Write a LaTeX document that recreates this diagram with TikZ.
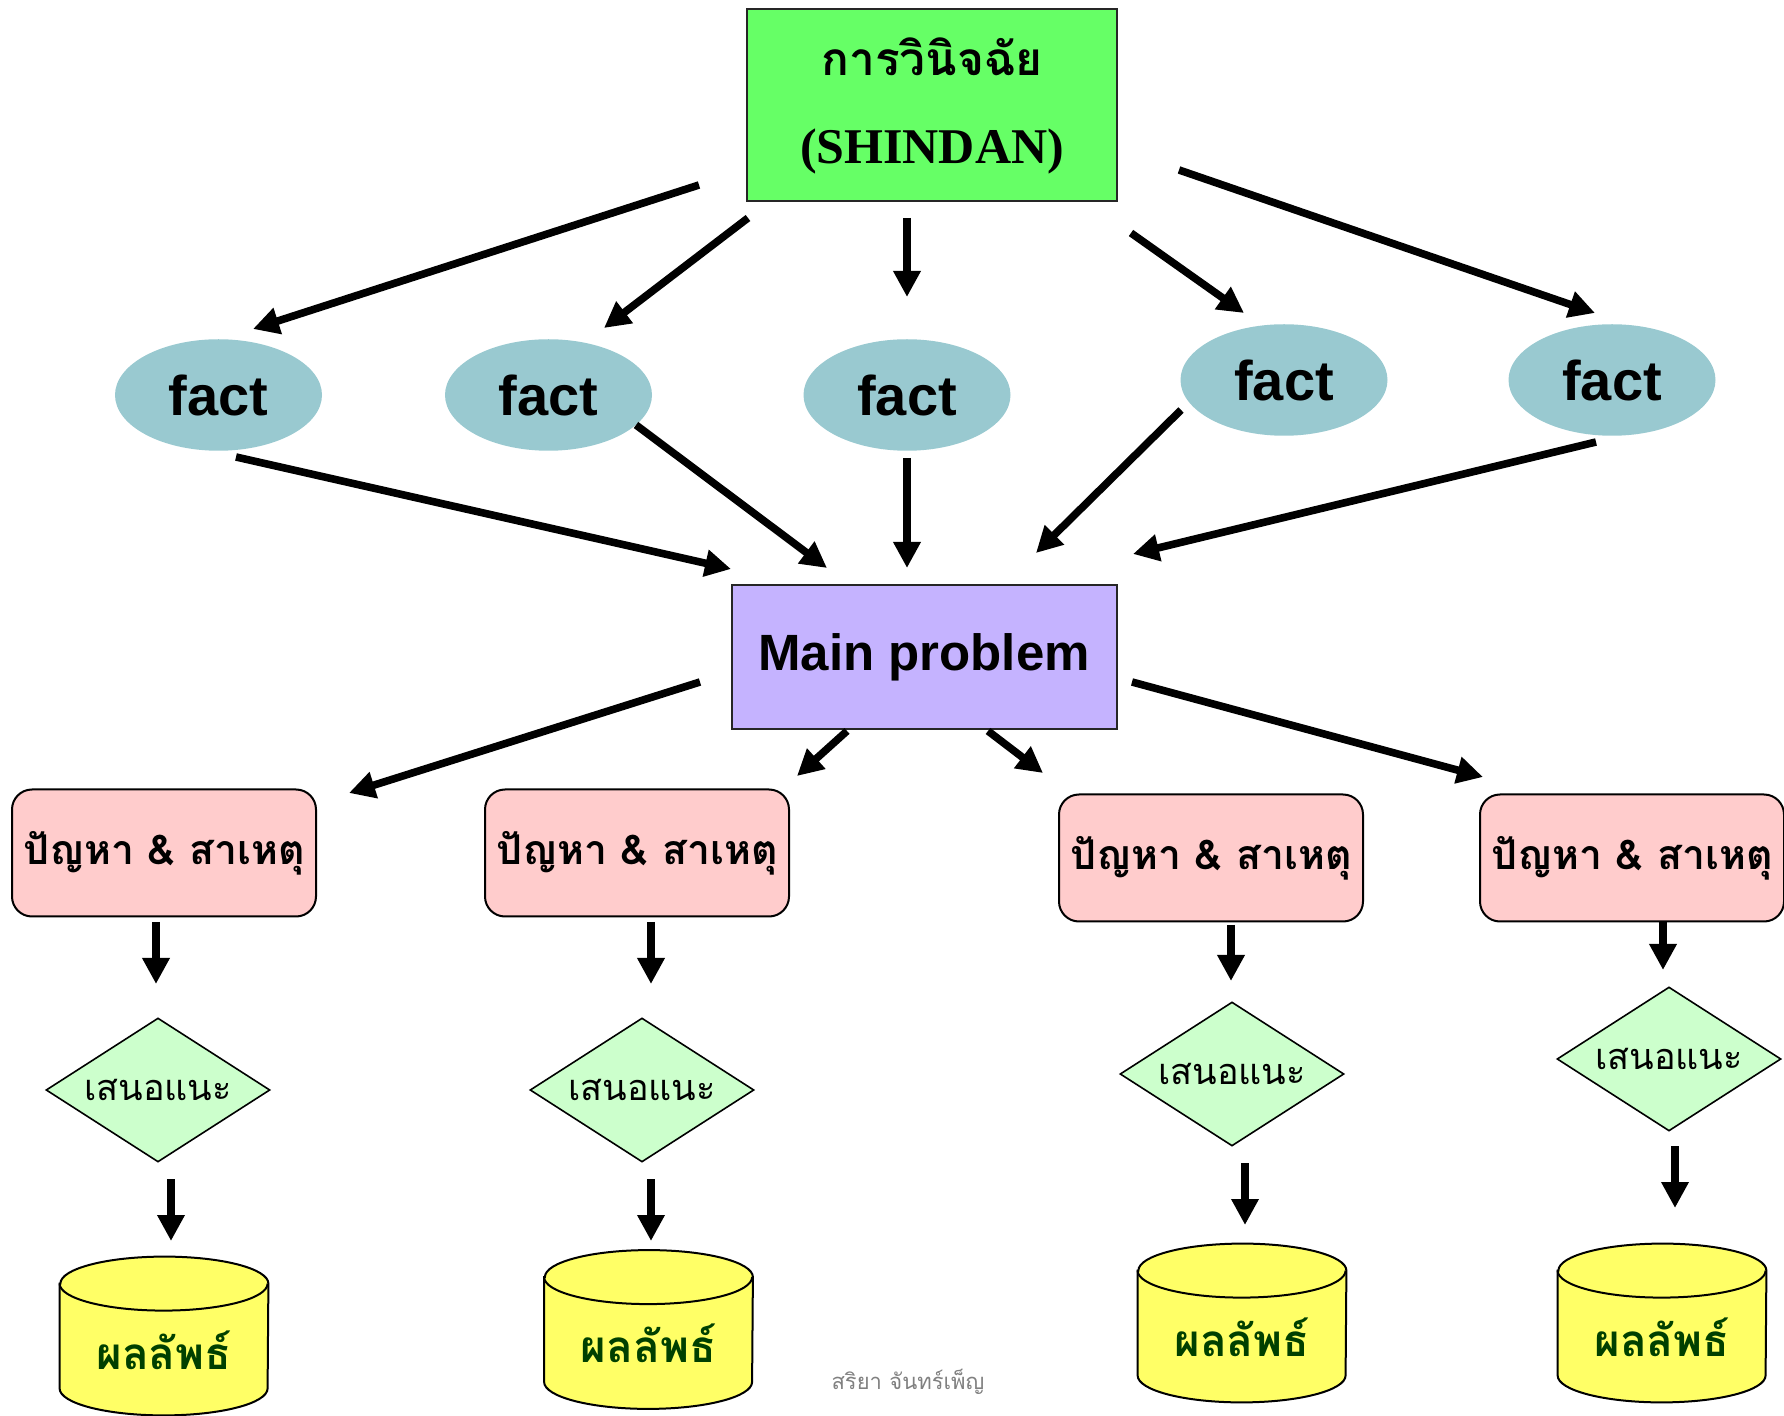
\documentclass[tikz,border=0pt]{standalone}
\usepackage{fontspec}
\setmainfont{Liberation Serif}
\newfontfamily\thai[Script=Thai]{Loma}
\newfontfamily\sansf{Liberation Sans}
\usetikzlibrary{arrows.meta,shapes.geometric,calc,backgrounds}
\definecolor{topgreen}{RGB}{102,255,102}
\definecolor{factblue}{RGB}{153,201,208}
\definecolor{mainlav}{RGB}{197,179,255}
\definecolor{pinkc}{RGB}{255,204,204}
\definecolor{diamgreen}{RGB}{204,255,204}
\definecolor{cylyellow}{RGB}{255,255,102}
\definecolor{cyltext}{RGB}{0,64,0}
\newcommand\conn[6]{\draw[arr] ($(#1)+(#2,#3)$) -- ($(#4)+(#5,#6)$);}
\newcommand\cylshape[1]{%
  \path[cylline] ([yshift=-13.5pt]#1.north west) -- ([yshift=13.5pt]#1.south west)
    arc[start angle=180,end angle=360,x radius=52pt,y radius=13.5pt]
    -- ([yshift=-13.5pt]#1.north east)
    arc[start angle=0,end angle=180,x radius=52pt,y radius=13.5pt] -- cycle;
  \draw[line width=1pt] ([yshift=-13.5pt]#1.north west)
    arc[start angle=180,end angle=360,x radius=52pt,y radius=13.5pt];}
\begin{document}
\begin{tikzpicture}[x=0.5pt,y=-0.5pt,
  arr/.style={line width=3.8pt,-{Triangle[length=13pt,width=13pt]}},
  topbox/.style={draw=black!85,line width=1pt,fill=topgreen,minimum width=185pt,
    minimum height=96pt,inner sep=0pt,align=center,font=\fontsize{25}{30}\selectfont},
  factnode/.style={ellipse,fill=factblue,minimum width=103.5pt,minimum height=55.75pt,
    inner sep=0pt,outer sep=0pt,font=\sansf\bfseries\fontsize{28}{30}\selectfont},
  mainbox/.style={draw=black!85,line width=1pt,fill=mainlav,minimum width=192.5pt,
    minimum height=72pt,inner sep=0pt,font=\sansf\bfseries\fontsize{25.5}{28}\selectfont},
  pinkbox/.style={draw,line width=1pt,rounded corners=10pt,fill=pinkc,minimum width=152pt,
    minimum height=63.5pt,inner sep=0pt,font=\thai\bfseries\fontsize{20.5}{24}\selectfont},
  diam/.style={diamond,draw,line width=0.8pt,fill=diamgreen,minimum width=112pt,
    minimum height=72pt,aspect=1.556,inner sep=0pt,font=\thai\fontsize{18}{20}\selectfont},
  cylbox/.style={rectangle,minimum width=104pt,minimum height=79pt,inner sep=0pt,
    text=cyltext,font=\thai\bfseries\fontsize{22}{26}\selectfont},
  cylline/.style={draw,line width=1pt,fill=cylyellow}]
\useasboundingbox (0,0) rectangle (1784,1416);

\node[topbox] (top) at (932,105.5) {{\thai\bfseries\fontsize{23}{28}\selectfont การวินิจฉัย}\\[14pt]{\bfseries (SHINDAN)}};

\node[factnode] (f1) at (218.5,395) {fact};
\node[factnode] (f2) at (548.5,395) {fact};
\node[factnode] (f3) at (907,395) {fact};
\node[factnode] (f4) at (1284,380) {fact};
\node[factnode] (f5) at (1612,380) {fact};

\node[mainbox] (main) at (924,657) {Main problem};

\node[pinkbox] (p1) at (164,853) {ปัญหา \& สาเหตุ};
\node[pinkbox] (p2) at (637,853) {ปัญหา \& สาเหตุ};
\node[pinkbox] (p3) at (1211,858) {ปัญหา \& สาเหตุ};
\node[pinkbox] (p4) at (1632,858) {ปัญหา \& สาเหตุ};

\node[diam] (d1) at (158,1090) {เสนอแนะ};
\node[diam] (d2) at (642,1090) {เสนอแนะ};
\node[diam] (d3) at (1232,1074) {เสนอแนะ};
\node[diam] (d4) at (1669,1059) {เสนอแนะ};

\node[cylbox] (c1) at (164,1336) {\raisebox{-7pt}[\height][\depth]{ผลลัพธ์}};
\node[cylbox] (c2) at (648.5,1329.5) {\raisebox{-7pt}[\height][\depth]{ผลลัพธ์}};
\node[cylbox] (c3) at (1242,1323) {\raisebox{-7pt}[\height][\depth]{ผลลัพธ์}};
\node[cylbox] (c4) at (1662,1323) {\raisebox{-7pt}[\height][\depth]{ผลลัพธ์}};
\begin{scope}[on background layer]
\cylshape{c1}\cylshape{c2}\cylshape{c3}\cylshape{c4}
\end{scope}

\node[text=black!50,font=\thai\fontsize{11}{13}\selectfont] (wm) at (908,1382) {สริยา จันทร์เพ็ญ};

% top -> facts
\conn{top}{-233}{79.5}{f1}{34.5}{-66}
\conn{top}{-184}{112.5}{f2}{55.5}{-67}
\conn{top}{-25}{112.5}{f3}{0}{-98}
\conn{top}{199}{127.5}{f4}{-40}{-67}
\conn{top}{247}{64.5}{f5}{-17}{-67}
% facts -> main
\conn{f1}{17.5}{62}{main}{-193}{-88}
\conn{f2}{87.5}{30}{main}{-97}{-89}
\conn{f3}{0}{63}{main}{-17}{-89}
\conn{f4}{-103}{30}{main}{112}{-104}
\conn{f5}{-16}{62}{main}{209}{-103}
% main -> pink
\conn{main}{-224}{25}{p1}{185}{-60}
\conn{main}{-77}{74}{p2}{160}{-77}
\conn{main}{64}{74}{p3}{-168}{-85}
\conn{main}{208}{25}{p4}{-149}{-81}
% pink -> diamonds
\conn{p1}{-8}{69}{d1}{-2}{-106}
\conn{p2}{14}{69}{d2}{9}{-106}
\conn{p3}{20}{67}{d3}{-1}{-93}
\conn{p4}{31}{64}{d4}{-6}{-89}
% diamonds -> cylinders
\conn{d1}{13}{89}{c1}{7}{-95}
\conn{d2}{9}{89}{c2}{2.5}{-88.5}
\conn{d3}{13}{89}{c3}{3}{-98}
\conn{d4}{6}{87}{c4}{13}{-115}
\end{tikzpicture}
\end{document}
